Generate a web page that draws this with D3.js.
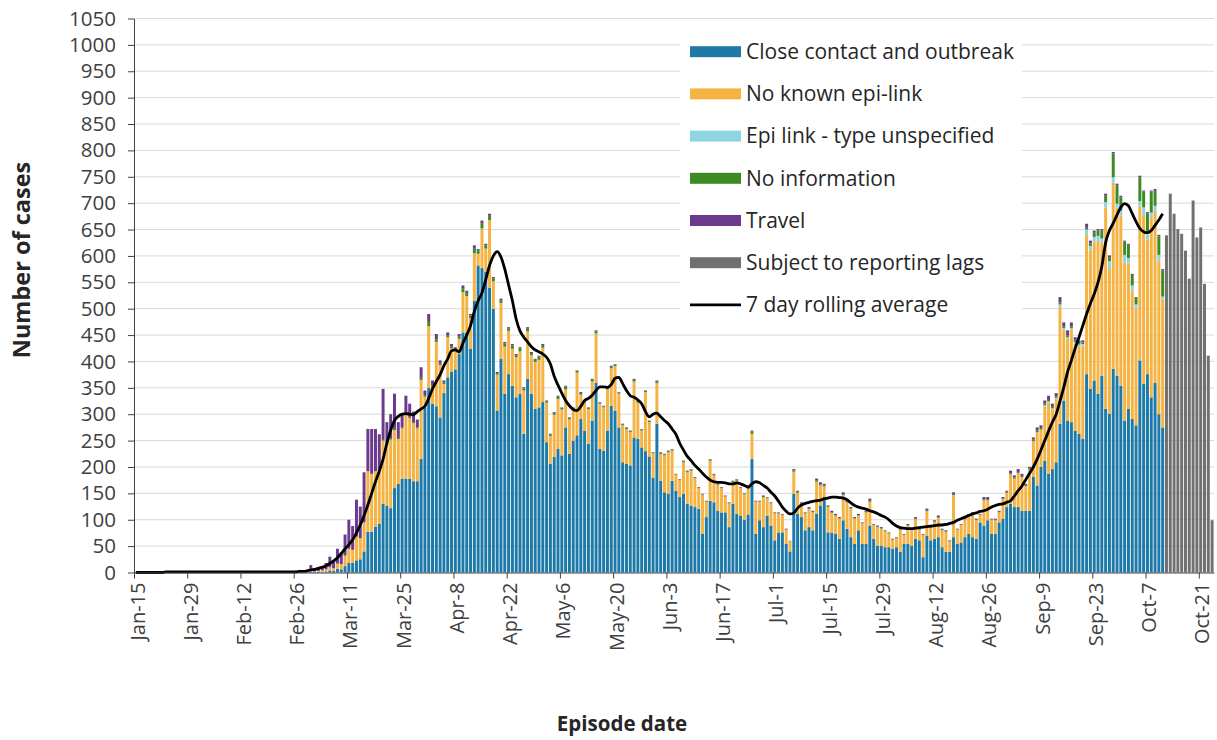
<!DOCTYPE html>
<html><head><meta charset="utf-8">
<script src="https://cdn.jsdelivr.net/npm/d3@7"></script>
<style>
html,body{margin:0;padding:0;background:#fff;}
svg{display:block;font-family:"Open Sans",sans-serif;}
</style></head><body>
<svg id="chart" width="1217" height="740"></svg>
<script>
// ---------- DATA (one value per episode date, starting Jan-15) ----------
const startDate = "2020-01-15";
const tickLabels = ["Jan-15","Jan-29","Feb-12","Feb-26","Mar-11","Mar-25","Apr-8","Apr-22","May-6","May-20",
  "Jun-3","Jun-17","Jul-1","Jul-15","Jul-29","Aug-12","Aug-26","Sep-9","Sep-23","Oct-7","Oct-21"];
const yTicks = [0,50,100,150,200,250,300,350,400,450,500,550,600,650,700,750,800,850,900,950,1000,1050];

const closeContact = [
0,0,0,0,0,0,0,0,0,0, 0,0,0,0,0,0,0,0,0,0, 0,0,0,0,0,0,0,0,0,0, 0,0,0,0,0,0,0,0,0,0, 0,0,0,0,0,
0,2,1,1,1,2,4,3,7,6, 12,18,18,23,25,40,77,77,87,92, 130,127,122,160,168,178,178,178,173,173, 215,313,350,320,315,
294,340,370,380,385,414,455,455,424,515, 582,577,570,540,500,307,405,339,376,354,
332,339,263,367,339,310,313,323,247,206, 219,234,222,275,225,250,260,291,269,244, 288,360,
234,231,269,316,307,275,209,206, 203,256,253,237,230,220,180,282,174,152,
149,174,155,143,149,130,127,124,121,73, 105,136,133,117,114,114,86,130,111,108, 100,110,215,
73,99,86,108,89,61,76, 76,54,40,149,111,105,80,86,80,111, 127,139,76,76,73,64,99,83,67,54,
80,54,54,89,64,51,51,48,48,45, 48,39,54,54,51,64,61,29,70,61, 64,67,48,39,39,67,54,57,67,73,
67,64,95,89,99,73,73,95,102,124, 130,124,124,117,117,117,181,165,200,212, 187,196,209,
282,326,288,285,269,263,253, 376,348,364,339,373,310,301,386,373,354, 288,310,291,279,402,358,376,332,360,300,
275, 0,0,0,0,0,0,0,0,0,0,0,0,0];

const noKnownLink = [
0,0,0,0,0,0,0,0,0,0, 0,0,0,0,0,0,0,0,0,0, 0,0,0,0,0,0,0,0,0,0, 0,0,0,0,0,0,0,0,0,0, 0,0,0,0,1,
1,2,1,2,3,4,6,5,10,10, 20,27,25,45,40,55,115,110,105,100, 120,115,130,110,85,95,120,115,110,100, 150,20,117,30,122,
99,17,76,45,35,29,76,69,58,90, 22,75,44,128,52,68,106,89,82,70,
76,80,82,90,73,89,90,103,75,53, 80,95,87,72,65,58,119,46,53,66, 74,93,
86,82,78,71,84,64,70,66, 63,106,69,32,112,65,46,77,51,70,
79,57,30,32,60,60,66,55,39,74, 29,76,51,49,46,30,45,41,63,52, 48,48,48,
61,35,57,33,42,51,36, 33,27,19,42,40,25,32,34,34,61, 38,24,48,37,35,38,48,50,54,48,
28,39,60,45,26,35,32,30,26,17, 17,42,17,35,30,37,20,42,46,23, 32,37,32,38,20,80,27,33,34,34,
43,35,14,48,38,27,26,19,37,27, 56,54,64,64,47,78,68,101,71,103, 135,113,120,
221,134,155,175,165,166,177, 264,263,262,291,252,382,274,353,318,322, 299,276,243,221,292,319,255,340,325,290,
243, 0,0,0,0,0,0,0,0,0,0,0,0,0];

const epiUnspecified = [
0,0,0,0,0,0,0,0,0,0, 0,0,0,0,0,0,0,0,0,0, 0,0,0,0,0,0,0,0,0,0, 0,0,0,0,0,0,0,0,0,0,
0,0,0,0,0,0,0,0,0,0, 0,0,0,0,0,0,0,0,0,0, 0,0,0,0,0,0,0,0,0,0, 0,0,0,0,0,0,0,0,0,0,
0,0,0,0,0,0,0,0,0,0, 0,0,0,0,0,0,0,0,0,0, 0,0,0,0,0,0,0,0,0,0, 0,0,0,0,0,0,0,0,0,0,
0,0,0,0,0,0,0,0,0,0, 0,0,0,0,0,0,0,0,0,0, 0,0,0,0,0,0,0,0,0,0, 0,0,0,0,0,0,0,0,0,0,
0,0,0,0,0,0,0,0,0,0, 0,0,0,0,0,0,0,0,0,0, 0,0,0,0,0,0,0,0,0,0, 0,0,0,0,0,0,0,0,0,0,
0,0,0,0,0,0,0,0,0,0, 0,0,0,0,0,0,0,0,0,0, 0,0,0,0,0,0,0,0,0,0, 0,0,0,0,0,0,0,0,0,
2,2,2,2, 5,3,3,3,3,3,3, 10,8,10,8,8,10,15,10,8,10, 15,10,10,8,10,15,15,10,10,12,
5, 0,0,0,0,0,0,0,0,0,0,0,0,0];

const noInformation = [
0,0,0,0,0,0,0,0,0,0, 0,0,0,0,0,0,0,0,0,0, 0,0,0,0,0,0,0,0,0,0, 0,0,0,0,0,0,0,0,0,0,
0,0,0,0,0,0,0,0,0,0, 0,0,0,0,0,0,0,0,0,0, 0,0,0,0,0,
3,3,3,4,2,2,2,2,2,2, 4,2,8,5,5,
3,3,4,4,4,5,8,6,5,10, 6,10,6,8,5,3,5,6,5,6, 4,6,4,5,4,4,6,5,3,3, 3,4,3,5,3,3,3,3,3,2, 3,4,
2,2,3,3,3,2,2,2, 2,3,3,2,2,2,1,3,2,2, 2,2,1,1,2,2,2,1,1,1, 1,2,2,1,1,1,1,2,2,1, 1,1,4,
1,1,2,1,1,1,1, 1,1,1,3,2,1,1,1,1,3, 2,2,1,1,1,1,2,1,1,1, 1,1,1,2,1,1,1,1,1,1,
1,1,1,1,1,1,1,1,2,1, 1,1,1,1,1,2,1,1,1,1, 1,1,1,2,2,1,1,1,2,2, 2,2,2,2,2,2,3,3,3,3, 3,3,3,
4,3,3,3,3,3,3, 5,5,8,10,15,12,8,45,35,25, 25,25,20,12,45,30,35,40,30,35,
50, 0,0,0,0,0,0,0,0,0,0,0,0,0];

const travel = [
1,0,0,1,0,0,0,1,0,0, 1,0,0,0,1,0,2,1,0,0, 1,1,0,0,1,0,0,0,1,0, 1,0,0,0,0,1,0,0,2,0, 1,0,3,2,3,
4,10,6,7,8,12,20,14,28,22, 40,55,45,70,60,95,80,85,80,70, 95,40,45,65,30,25,35,25,20,15, 20,10,15,9,10,
6,4,5,4,3,4,5,4,3,5, 3,5,3,4,3,2,3,3,2,3, 2,2,2,3,2,2,2,2,1,1, 2,2,1,2,1,2,1,2,1,1, 2,2,
1,1,1,2,1,1,1,1, 1,2,1,1,1,1,1,2,1,1, 1,1,1,1,1,1,1,1,1,1, 1,1,1,1,1,1,1,1,1,1, 1,1,2,
1,1,1,1,1,1,1, 1,1,0,2,2,2,1,3,2,3, 4,3,2,3,2,2,3,2,2,2, 2,1,2,4,1,2,2,1,1,1,
1,4,1,2,1,3,1,1,3,1, 2,3,2,2,1,3,1,1,3,3, 3,2,1,4,4,1,2,2,2,2, 5,4,6,4,2,3,4,6,5,6, 8,6,6,
10,8,10,8,6,5,4, 6,5,4,3,3,4,3,3,3,3, 2,2,2,2,3,2,2,2,2,3,
2, 0,0,0,0,0,0,0,0,0,0,0,0,0];

const reportingLag = [
0,0,0,0,0,0,0,0,0,0, 0,0,0,0,0,0,0,0,0,0, 0,0,0,0,0,0,0,0,0,0, 0,0,0,0,0,0,0,0,0,0,
0,0,0,0,0,0,0,0,0,0, 0,0,0,0,0,0,0,0,0,0, 0,0,0,0,0,0,0,0,0,0, 0,0,0,0,0,0,0,0,0,0,
0,0,0,0,0,0,0,0,0,0, 0,0,0,0,0,0,0,0,0,0, 0,0,0,0,0,0,0,0,0,0, 0,0,0,0,0,0,0,0,0,0,
0,0,0,0,0,0,0,0,0,0, 0,0,0,0,0,0,0,0,0,0, 0,0,0,0,0,0,0,0,0,0, 0,0,0,0,0,0,0,0,0,0,
0,0,0,0,0,0,0,0,0,0, 0,0,0,0,0,0,0,0,0,0, 0,0,0,0,0,0,0,0,0,0, 0,0,0,0,0,0,0,0,0,0,
0,0,0,0,0,0,0,0,0,0, 0,0,0,0,0,0,0,0,0,0, 0,0,0,0,0,0,0,0,0,0, 0,0,0,0,0,0,0,0,0,0,
0,0,0,0,0,0,0,0,0,0, 0,0,0,0,0,0,0,0,0,0, 0,0,0,0,0,0,0,0,0,0, 0,
639,718,680,651,642,610,557,705,635,654,547,411,99];

const rollingAvg = [
0,0,0,0,0,0,0,0,1,1, 1,1,1,1,1,1,1,1,1,1, 1,1,1,1,1,1,1,1,1,1, 1,1,1,1,1,1,1,1,1,1, 1,
1,1,2,2,3,5,6,
8,10,13,17,22,28,36,45,53,62, 75,90,108,128,150,172,192,215,245,270, 288,296,300,301,300,299,305,310,315,330,
348,362,375,392,405,420,422,418,435,450, 468,495,515,530,555,582,600,608,598,575, 545,515,
480,458,446,437,428,422,418,414,408,395, 372,355,340,326,316,309,307,315,326,330,
336,345,352,352,351,356,368,370,358,345, 335,332,327,320,305,295,300,302,295,288,
282,272,262,245,232,220,212,203,196,188, 181,175,172,171,171,170,168,168,170,168,
165,162,168,172,170,165,160,152,145,135, 124,
116,111,113,122,128,131,133,135,136, 137,140,141,143,143,142,141,138,132,127,
124,122,120,117,115,112,108,105,100,93, 88,85,84,83,83,84,85,86,87,88,
89,90,90,91,93,95,99,102,105,108, 111,113,116,117,120,124,127,129,130,133,
136,145,155,164,176,188,200,215,232,250, 268,285,300,325,351,380,402,425,446,468,
490,510,528,550,580,625,648,662,678,692, 699,695,680,665,652,646,644,648,658,668, 680];

const seriesNames = ["Close contact and outbreak","No known epi-link","Epi link - type unspecified",
  "No information","Travel","Subject to reporting lags"];
const seriesColors = ["#1d7aa8","#f4b343","#8fd4e3","#3d8a25","#6b3a8c","#707072"];
const lineName = "7 day rolling average";

// ---------- LAYOUT ----------
const svg = d3.select("#chart");
const n = closeContact.length;
const parse = d3.timeParse("%Y-%m-%d");
const t0 = parse(startDate);
const days = d3.timeDay.range(t0, d3.timeDay.offset(t0, n));
const fmt = d3.timeFormat("%b-%-d");

const pL = 134, pR = 1214, pT = 18.5, pB = 572.5;
const x = d3.scaleBand().domain(d3.range(n)).range([pL, pR]).paddingInner(0.22).paddingOuter(0.11);
const xt = d3.scaleTime().domain([t0, d3.timeDay.offset(t0, n)]).range([pL, pR]);
const y = d3.scaleLinear().domain([0, 1050]).range([pB, pT]);

// gridlines
svg.append("g").selectAll("line").data(yTicks.filter(v => v > 0)).join("line")
  .attr("x1", pL).attr("x2", pR).attr("y1", d => y(d)).attr("y2", d => y(d))
  .attr("stroke", "#d9d9d9").attr("stroke-width", 1);

// stacked bars
const keys = ["cc","nk","eu","ni","tr","lag"];
const rows = days.map((d, i) => ({i, cc: closeContact[i], nk: noKnownLink[i], eu: epiUnspecified[i],
  ni: noInformation[i], tr: travel[i], lag: reportingLag[i]}));
const stacked = d3.stack().keys(keys)(rows);
svg.append("g").selectAll("g").data(stacked).join("g")
  .attr("fill", (s, k) => seriesColors[k])
  .selectAll("rect").data(s => s.filter(p => p[1] - p[0] > 0)).join("rect")
  .attr("x", p => x(p.data.i)).attr("width", x.bandwidth())
  .attr("y", p => y(p[1])).attr("height", p => y(p[0]) - y(p[1]));

// rolling average line
svg.append("path").datum(rollingAvg)
  .attr("fill", "none").attr("stroke", "#000").attr("stroke-width", 2.8).attr("stroke-linejoin", "round")
  .attr("d", d3.line().x((v, i) => x(i) + x.bandwidth() / 2).y(v => y(v)).curve(d3.curveMonotoneX));

// y axis
const yAxis = svg.append("g").attr("transform", `translate(${pL},0)`)
  .call(d3.axisLeft(y).tickValues(yTicks).tickFormat(d3.format("d")).tickSize(6).tickSizeOuter(0).tickPadding(12));
yAxis.select(".domain").attr("stroke", "#404040");
yAxis.selectAll(".tick line").attr("stroke", "#404040");
yAxis.selectAll("text").attr("font-size", 20.5).attr("fill", "#404040").attr("font-family", "Open Sans");

// x axis
const tickDates = days.filter(d => tickLabels.includes(fmt(d)));
const xAxis = svg.append("g").attr("transform", `translate(0,${pB})`)
  .call(d3.axisBottom(xt).tickValues(tickDates).tickFormat(fmt).tickSize(6).tickSizeOuter(0));
xAxis.select(".domain").attr("stroke", "#404040");
xAxis.selectAll(".tick line").attr("stroke", "#404040");
xAxis.selectAll("text").attr("font-size", 20).attr("fill", "#404040").attr("font-family", "Open Sans")
  .attr("transform", "rotate(-90)").attr("text-anchor", "end")
  .attr("x", -10).attr("y", 3).attr("dy", "0.35em");

// axis titles
svg.append("text").attr("transform", "translate(30,260) rotate(-90)").attr("text-anchor", "middle")
  .attr("font-weight", 700).attr("font-size", 23.5).attr("fill", "#262626").text("Number of cases");
svg.append("text").attr("x", 622).attr("y", 731).attr("text-anchor", "middle")
  .attr("font-weight", 700).attr("font-size", 20.5).attr("fill", "#262626").text("Episode date");

// legend
const lg = svg.append("g");
lg.append("rect").attr("x", 680).attr("y", 27).attr("width", 342).attr("height", 292).attr("fill", "#fff");
const items = seriesNames.map((s, k) => ({name: s, color: seriesColors[k], type: "rect"}))
  .concat([{name: lineName, color: "#000", type: "line"}]);
const li = lg.selectAll("g.item").data(items).join("g").attr("class", "item")
  .attr("transform", (d, k) => `translate(690,${51.7 + k * 42.2})`);
li.filter(d => d.type === "rect").append("rect").attr("x", 0).attr("y", -5.5).attr("width", 51).attr("height", 11)
  .attr("fill", d => d.color);
li.filter(d => d.type === "line").append("line").attr("x1", 0).attr("x2", 51).attr("y1", 0).attr("y2", 0)
  .attr("stroke", "#000").attr("stroke-width", 2.8);
li.append("text").attr("x", 56).attr("y", 0).attr("dy", "0.35em").attr("font-size", 21).attr("fill", "#262626")
  .text(d => d.name);
</script>
</body></html>
